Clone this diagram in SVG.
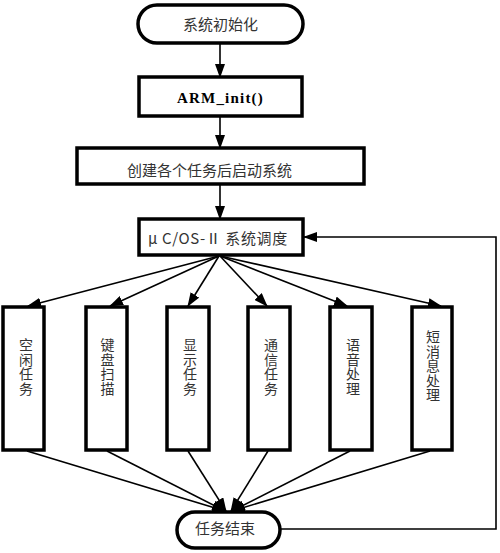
<svg xmlns="http://www.w3.org/2000/svg" width="500" height="553" viewBox="0 0 500 553">
<style>
.box{fill:#fff;stroke:#000;stroke-width:3.5}
.ln{fill:none;stroke:#000;stroke-width:1.6}
.t{font-family:"Noto Sans CJK SC","Liberation Serif",sans-serif;font-size:15px;fill:#333}
.v{font-family:"Noto Sans CJK SC","Liberation Serif",sans-serif;font-size:14px;fill:#333;writing-mode:vertical-rl}
.b{font-family:"Liberation Serif",serif;font-size:15px;font-weight:bold;fill:#000;letter-spacing:1.2px}
</style>
<defs>
<marker id="ah" markerWidth="14" markerHeight="10" refX="13" refY="5" orient="auto" markerUnits="userSpaceOnUse">
<path d="M0,0 L14,5 L0,10 Z" fill="#000"/>
</marker>
</defs>
<rect width="500" height="553" fill="#fff"/>
<g id="connectors">
<line class="ln" x1="220" y1="43" x2="220" y2="77" marker-end="url(#ah)"/>
<line class="ln" x1="220" y1="116" x2="220" y2="148" marker-end="url(#ah)"/>
<line class="ln" x1="220" y1="184" x2="220" y2="219" marker-end="url(#ah)"/>
<line class="ln" x1="219" y1="256" x2="28" y2="306" marker-end="url(#ah)"/>
<line class="ln" x1="219" y1="256" x2="110" y2="306" marker-end="url(#ah)"/>
<line class="ln" x1="219" y1="256" x2="188" y2="306" marker-end="url(#ah)"/>
<line class="ln" x1="220" y1="256" x2="267" y2="306" marker-end="url(#ah)"/>
<line class="ln" x1="220" y1="256" x2="347" y2="306" marker-end="url(#ah)"/>
<line class="ln" x1="220" y1="256" x2="441" y2="306" marker-end="url(#ah)"/>
<line class="ln" x1="27" y1="451" x2="225" y2="511" marker-end="url(#ah)"/>
<line class="ln" x1="107" y1="451" x2="225" y2="511" marker-end="url(#ah)"/>
<line class="ln" x1="188" y1="451" x2="226" y2="511" marker-end="url(#ah)"/>
<line class="ln" x1="268" y1="451" x2="231" y2="511" marker-end="url(#ah)"/>
<line class="ln" x1="350" y1="451" x2="232" y2="511" marker-end="url(#ah)"/>
<line class="ln" x1="430" y1="451" x2="232" y2="511" marker-end="url(#ah)"/>
<polyline class="ln" points="280,529 496,529 496,237 304,237" marker-end="url(#ah)"/>
</g>
<g id="start">
<rect class="box" x="138" y="5" width="165" height="38" rx="19"/>
<text class="t" x="220.5" y="30" text-anchor="middle">系统初始化</text>
</g>
<g id="arm_init">
<rect class="box" x="139" y="77" width="163" height="39"/>
<text class="b" x="220.5" y="103" text-anchor="middle">ARM_init()</text>
</g>
<g id="create">
<rect class="box" x="77" y="148" width="287" height="36"/>
<text class="t" x="127" y="176">创建各个任务后启动系统</text>
</g>
<g id="ucos">
<rect class="box" x="139" y="219" width="164" height="36"/>
<text class="t" x="148" y="244" letter-spacing="0.6">μ C/OS-Ⅱ 系统调度</text>
</g>
<g id="task1">
<rect class="box" x="3" y="307" width="41" height="143"/>
<text class="v" x="26" y="338">空</text><text class="v" x="26" y="352.5">闲</text><text class="v" x="26" y="367">任</text><text class="v" x="26" y="381.5">务</text>
</g>
<g id="task2">
<rect class="box" x="86" y="307" width="41" height="143"/>
<text class="v" x="107.5" y="338">键</text><text class="v" x="107.5" y="352.5">盘</text><text class="v" x="107.5" y="367">扫</text><text class="v" x="107.5" y="381.5">描</text>
</g>
<g id="task3">
<rect class="box" x="167" y="307" width="42" height="143"/>
<text class="v" x="190" y="338">显</text><text class="v" x="190" y="352.5">示</text><text class="v" x="190" y="367">任</text><text class="v" x="190" y="381.5">务</text>
</g>
<g id="task4">
<rect class="box" x="248" y="307" width="42" height="143"/>
<text class="v" x="271" y="338">通</text><text class="v" x="271" y="352.5">信</text><text class="v" x="271" y="367">任</text><text class="v" x="271" y="381.5">务</text>
</g>
<g id="task5">
<rect class="box" x="330" y="307" width="42" height="143"/>
<text class="v" x="353" y="338">语</text><text class="v" x="353" y="352.5">音</text><text class="v" x="353" y="367">处</text><text class="v" x="353" y="381.5">理</text>
</g>
<g id="task6">
<rect class="box" x="412" y="307" width="40" height="143"/>
<text class="v" x="433" y="330">短</text><text class="v" x="433" y="344.5">消</text><text class="v" x="433" y="359">息</text><text class="v" x="433" y="373.5">处</text><text class="v" x="433" y="388">理</text>
</g>
<g id="end">
<rect class="box" x="177" y="512" width="103" height="36" rx="18"/>
<text class="t" x="225" y="534" text-anchor="middle">任务结束</text>
</g>
</svg>
